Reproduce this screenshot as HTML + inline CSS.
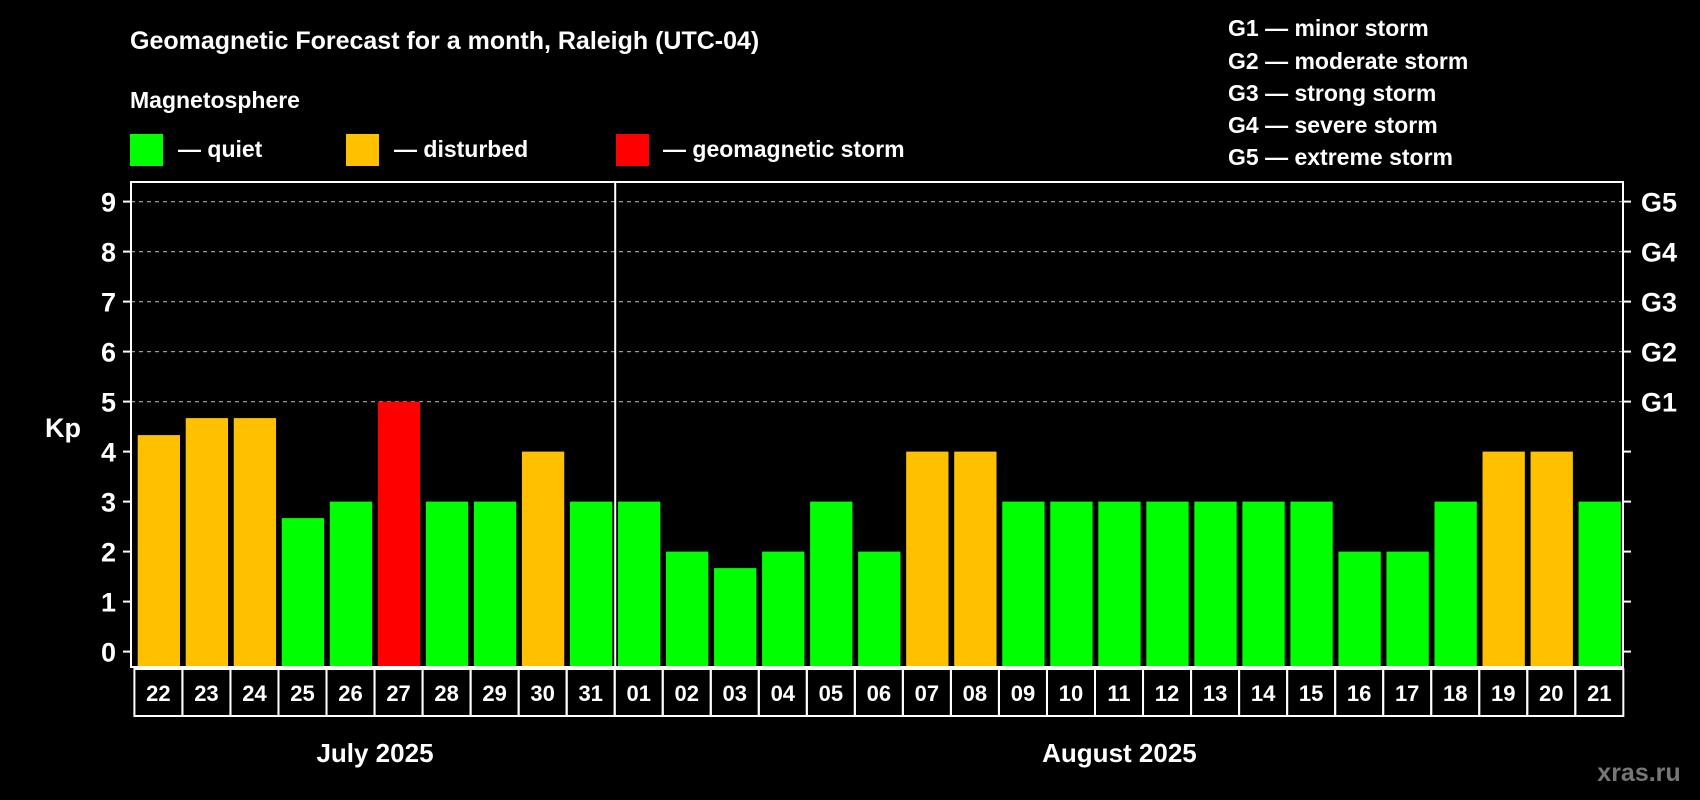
<!DOCTYPE html>
<html><head><meta charset="utf-8"><style>
html,body{margin:0;padding:0;background:#000;}
svg{display:block;font-family:"Liberation Sans",Arial,sans-serif;font-weight:bold;}
</style></head><body>
<svg id="chart" width="1700" height="800" viewBox="0 0 1700 800">
<rect width="1700" height="800" fill="#000"/>
<text x="130" y="49" fill="#fff" font-size="25">Geomagnetic Forecast for a month, Raleigh (UTC-04)</text>
<text x="130" y="108" fill="#fff" font-size="23">Magnetosphere</text>
<g><rect x="130" y="134" width="33" height="32" fill="#00ff00"/><text x="178" y="157" fill="#fff" font-size="23">— quiet</text></g>
<g><rect x="346" y="134" width="33" height="32" fill="#ffc000"/><text x="394" y="157" fill="#fff" font-size="23">— disturbed</text></g>
<g><rect x="616" y="134" width="33" height="32" fill="#ff0000"/><text x="663" y="157" fill="#fff" font-size="23">— geomagnetic storm</text></g>
<g fill="#fff" font-size="23">
<text x="1228" y="36">G1 — minor storm</text>
<text x="1228" y="69">G2 — moderate storm</text>
<text x="1228" y="101">G3 — strong storm</text>
<text x="1228" y="133">G4 — severe storm</text>
<text x="1228" y="165">G5 — extreme storm</text>
</g>
<text x="63" y="437" fill="#fff" font-size="27" text-anchor="middle">Kp</text>
<text x="1639" y="781" fill="#777" font-size="25" text-anchor="middle">xras.ru</text>
<g id="grid"></g><g id="bars"></g><g id="axes"></g>
</svg>
<script>
const days = ["22","23","24","25","26","27","28","29","30","31","01","02","03","04","05","06","07","08","09","10","11","12","13","14","15","16","17","18","19","20","21"];
const kpValues = [4.33,4.67,4.67,2.67,3,5,3,3,4,3,3,2,1.67,2,3,2,4,4,3,3,3,3,3,3,3,2,2,3,4,4,3];
const yTicks = [0,1,2,3,4,5,6,7,8,9];
const gLabels = ["G1","G2","G3","G4","G5"];
const gLevels = [5,6,7,8,9];
const months = ["July 2025","August 2025"];
const monthCounts = [10,21];

const NS="http://www.w3.org/2000/svg";
const X0=131, X1=1623, Y0=182, Y1=667;
const firstBar=137.7, slot=48.03, barW=42.3;
const y=v=>651.6-v*50;
const xs=i=>firstBar+i*slot;
function mk(tag,attrs,parent,text){const e=document.createElementNS(NS,tag);for(const k in attrs)e.setAttribute(k,attrs[k]);if(text!==undefined)e.textContent=text;parent.appendChild(e);return e;}
const grid=document.getElementById('grid'),bars=document.getElementById('bars'),axes=document.getElementById('axes');
gLevels.forEach(v=>{const l=mk('line',{x1:X0,x2:X1,y1:y(v),y2:y(v),stroke:'#999','stroke-width':1.2,'stroke-dasharray':'4,4'},grid);

});
kpValues.forEach((v,i)=>{const c=v>=5?'#ff0000':(v>=4?'#ffc000':'#00ff00');
const r=mk('rect',{x:xs(i),y:y(v),width:barW,height:y(0)-y(v)+15.4,fill:c},bars);

});
// frame
const f=mk('rect',{x:X0,y:Y0,width:X1-X0,height:Y1-Y0,fill:'none',stroke:'#fff','stroke-width':2},axes);


const dv=xs(monthCounts[0])-2.8;
const d=mk('line',{x1:dv,x2:dv,y1:Y0,y2:Y1,stroke:'#fff','stroke-width':2},axes);


yTicks.forEach(v=>{
mk('line',{x1:X0-8,x2:X0,y1:y(v),y2:y(v),stroke:'#fff','stroke-width':2},axes);
mk('line',{x1:X1,x2:X1+8,y1:y(v),y2:y(v),stroke:'#fff','stroke-width':2},axes);
const t=mk('text',{x:116,y:y(v)+10,fill:'#fff','font-size':27,'text-anchor':'end'},axes,String(v));

});
gLevels.forEach((v,i)=>{const t=mk('text',{x:1641,y:y(v)+10,fill:'#fff','font-size':27},axes,gLabels[i]);

});
days.forEach((dd,i)=>{const bx=xs(i)-3.3;
const b=mk('rect',{x:bx,y:669,width:slot,height:47,fill:'none',stroke:'#fff','stroke-width':2},axes);


const t=mk('text',{x:bx+slot/2,y:701,fill:'#fff','font-size':22,'text-anchor':'middle'},axes,dd);

});
let start=0;months.forEach((m,i)=>{const cx=(xs(start)+xs(start+monthCounts[i]-1)+barW)/2;
const t=mk('text',{x:cx,y:762,fill:'#fff','font-size':26,'text-anchor':'middle'},axes,m);

start+=monthCounts[i];});
</script>
</body></html>
